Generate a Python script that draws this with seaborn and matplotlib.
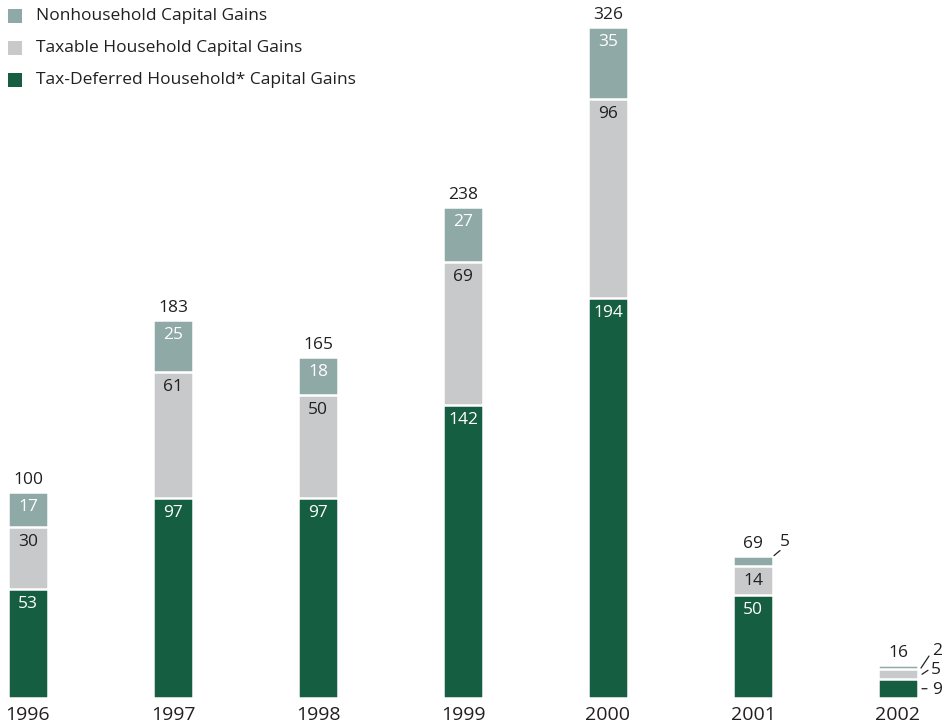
import matplotlib
matplotlib.use("Agg")
import matplotlib.pyplot as plt
from matplotlib.patches import Rectangle
from matplotlib.transforms import offset_copy
import numpy as np
import pandas as pd
import seaborn as sns

# Capital gains by type, billions of dollars
years = ["1996", "1997", "1998", "1999", "2000", "2001", "2002"]
tax_deferred = [53, 97, 97, 142, 194, 50, 9]
taxable = [30, 61, 50, 69, 96, 14, 5]
nonhousehold = [17, 25, 18, 27, 35, 5, 2]
totals = [100, 183, 165, 238, 326, 69, 16]

series_names = [
    "Nonhousehold Capital Gains",
    "Taxable Household Capital Gains",
    "Tax-Deferred Household* Capital Gains",
]

C_GREEN = "#155E41"
C_GREY = "#C8C9CB"
C_TEAL = "#8FA9A6"
TEXT = "#231F20"

sns.set_theme(style="white")
plt.rcParams["font.family"] = ["Open Sans", "DejaVu Sans"]

df = pd.DataFrame({
    "year": years,
    "green": tax_deferred,
    "grey": taxable,
    "teal": nonhousehold,
})
df["cum_green"] = df["green"]
df["cum_grey"] = df["green"] + df["grey"]
df["cum_teal"] = df["cum_grey"] + df["teal"]

W, H = 952, 727
fig = plt.figure(figsize=(W / 100, H / 100), dpi=100)
px_per_unit = 2.064
base_px = 29
ax = fig.add_axes([0, base_px / H, 1, (H - base_px) / H])

bar_w = 40 / 145
# stacked bars: draw cumulative heights back to front
for col, color in [("cum_teal", C_TEAL), ("cum_grey", C_GREY), ("cum_green", C_GREEN)]:
    sns.barplot(data=df, x="year", y=col, order=years, color=color,
                width=bar_w, edgecolor="white", linewidth=1.8,
                saturation=1, ax=ax, errorbar=None)

ax.set_xlim(-28 / 145, 6 + 54 / 145)
ax.set_ylim(0, (H - base_px) / px_per_unit)
for s in ax.spines.values():
    s.set_visible(False)
ax.set_yticks([])
ax.set_xlabel("")
ax.set_ylabel("")
ax.tick_params(axis="x", length=0, pad=6, labelsize=14, labelcolor=TEXT)

VAL_FS = 12.5

# values inside the segments
for i in range(len(years)):
    segs = [
        (df.loc[i, "green"], df.loc[i, "cum_green"], "white"),
        (df.loc[i, "grey"], df.loc[i, "cum_grey"], TEXT),
        (df.loc[i, "teal"], df.loc[i, "cum_teal"], "white"),
    ]
    for val, top, tc in segs:
        if val >= 10:
            ax.annotate(f"{val}", xy=(i, top), xytext=(0, -15),
                        textcoords="offset pixels", ha="center", va="center",
                        fontsize=VAL_FS, color=tc)
    ax.annotate(f"{totals[i]}", xy=(i, df.loc[i, "cum_teal"]), xytext=(0, 12),
                textcoords="offset pixels", ha="center", va="center",
                fontsize=VAL_FS, color=TEXT)


def leader(i, yval, text, line_from, line_to, text_off):
    """Label a thin segment beside the bar with a short leader line."""
    xr = i + bar_w / 2
    t1 = offset_copy(ax.transData, fig=fig, x=line_from[0], y=line_from[1], units="dots")
    t2 = offset_copy(ax.transData, fig=fig, x=line_to[0], y=line_to[1], units="dots")
    ax.annotate("", xy=(xr, yval), xycoords=t1, xytext=(xr, yval), textcoords=t2,
                arrowprops=dict(arrowstyle="-", color=TEXT, lw=0.9,
                                shrinkA=0, shrinkB=0))
    ax.annotate(text, xy=(xr, yval), xytext=text_off, textcoords="offset pixels",
                ha="center", va="center", fontsize=VAL_FS, color=TEXT)


# 2001 nonhousehold
i = 5
leader(i, df.loc[i, "cum_teal"], f"{nonhousehold[i]}", (1, 0), (7, 5), (12, 14))
# 2002 segments
i = 6
leader(i, df.loc[i, "cum_grey"] + nonhousehold[i] / 2, f"{nonhousehold[i]}",
       (3, -1), (11, 11), (19, 16))
leader(i, df.loc[i, "cum_green"] + taxable[i] / 2, f"{taxable[i]}",
       (4, 0), (10, 4), (18, 4))
leader(i, tax_deferred[i] / 2, f"{tax_deferred[i]}",
       (4, 0), (9, 0), (19, -1))

# legend: colour swatches with labels, top-left corner
for k, (name, color) in enumerate(zip(series_names, (C_TEAL, C_GREY, C_GREEN))):
    yc = 16 + 32 * k
    fig.patches.append(Rectangle((8 / W, 1 - (yc + 7) / H), 14 / W, 14 / H,
                                 transform=fig.transFigure, facecolor=color,
                                 edgecolor="none"))
    fig.text(36 / W, 1 - yc / H, name, ha="left", va="center",
             fontsize=12.5, color=TEXT)

fig.savefig("out.png", dpi=100)
